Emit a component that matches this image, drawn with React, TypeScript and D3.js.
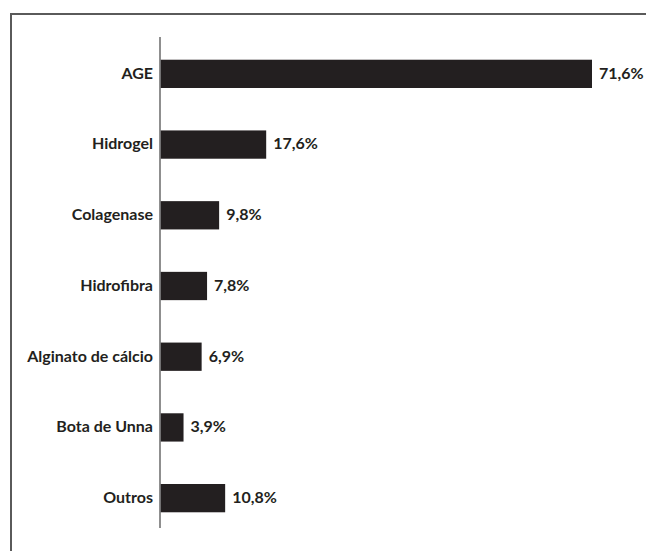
import React from 'react';
import * as d3 from 'd3';

const categories = ['AGE', 'Hidrogel', 'Colagenase', 'Hidrofibra', 'Alginato de cálcio', 'Bota de Unna', 'Outros'];
const values = [71.6, 17.6, 9.8, 7.8, 6.9, 3.9, 10.8];
const valueLabels = ['71,6%', '17,6%', '9,8%', '7,8%', '6,9%', '3,9%', '10,8%'];

const width = 646;
const height = 551;
const axisX = 160;
const barColor = '#231f20';
const font = 'Lato, "Open Sans", sans-serif';

const App: React.FC = () => {
  const x = d3.scaleLinear().domain([0, 71.6]).range([axisX, 592]);
  const y = d3
    .scaleBand<string>()
    .domain(categories)
    .range([38.5, 533.5])
    .paddingInner(0.6)
    .paddingOuter(0.3);

  return (
    <svg
      width={width}
      height={height}
      style={{ position: 'absolute', left: 0, top: 0, background: '#fff' }}
    >
      {/* frame */}
      <path d={`M11,${height} V14 H${width}`} fill="none" stroke="#5a5a5a" strokeWidth={2} />

      {/* axis line */}
      <line x1={axisX} x2={axisX} y1={37} y2={528} stroke="#6a6a6a" strokeWidth={1.5} />

      {categories.map((c, i) => {
        const yc = (y(c) ?? 0) + y.bandwidth() / 2;
        return (
          <g key={c}>
            <rect
              x={axisX + 0.75}
              y={y(c)}
              width={x(values[i]) - axisX - 0.75}
              height={y.bandwidth()}
              fill={barColor}
            />
            <text
              x={axisX - 7}
              y={yc}
              dy="0.3em"
              textAnchor="end"
              fontFamily={font}
              fontWeight="bold"
              fontSize={16}
              fill={barColor}
            >
              {c}
            </text>
            <text
              x={x(values[i]) + 7}
              y={yc}
              dy="0.3em"
              fontFamily={font}
              fontWeight="bold"
              fontSize={16}
              fill={barColor}
            >
              {valueLabels[i]}
            </text>
          </g>
        );
      })}
    </svg>
  );
};

export default App;
